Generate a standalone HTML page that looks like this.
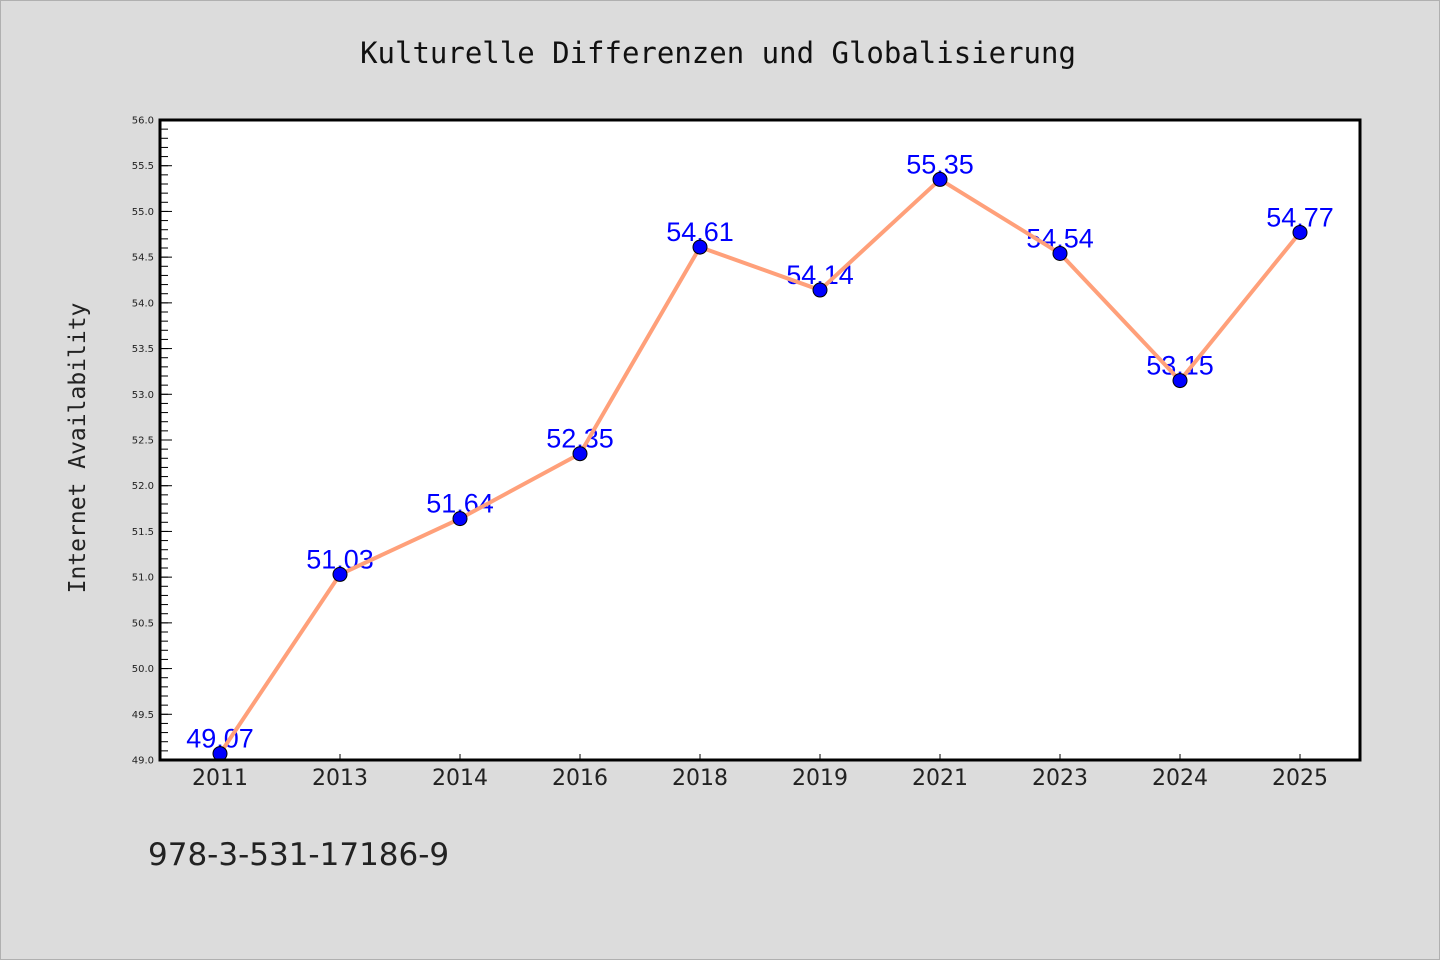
<!DOCTYPE html>
<html><head><meta charset="utf-8"><style>
html,body{margin:0;padding:0;background:#dcdcdc;}
svg{display:block;}
</style></head><body>
<svg id="chart" width="1440" height="960" xmlns="http://www.w3.org/2000/svg">
<rect x="0.5" y="0.5" width="1439" height="959" fill="#dcdcdc" stroke="#b0b0b0"/>
<text x="718" y="63" text-anchor="middle" font-family="'DejaVu Sans Mono','Liberation Mono',monospace" font-size="29" fill="#111">Kulturelle Differenzen und Globalisierung</text>
<text transform="translate(85,448) rotate(-90)" text-anchor="middle" font-family="'DejaVu Sans Mono','Liberation Mono',monospace" font-size="23" fill="#222">Internet Availability</text>
<text x="148" y="865" font-family="'DejaVu Sans','Liberation Sans',sans-serif" font-size="31" fill="#222">978-3-531-17186-9</text>
<rect x="160" y="120" width="1200" height="640" fill="#fff"/>
<g id="ticks"></g>
<g id="labels"></g>
<g id="series"></g>
<rect x="160" y="120" width="1200" height="640" fill="none" stroke="#000" stroke-width="3"/>
</svg>
<script>
const categories = ["2011","2013","2014","2016","2018","2019","2021","2023","2024","2025"];
const values = [49.07,51.03,51.64,52.35,54.61,54.14,55.35,54.54,53.15,54.77];
const yTicks = [49.0,49.5,50.0,50.5,51.0,51.5,52.0,52.5,53.0,53.5,54.0,54.5,55.0,55.5,56.0];
const valueLabels = ["49.07","51.03","51.64","52.35","54.61","54.14","55.35","54.54","53.15","54.77"];

const NS="http://www.w3.org/2000/svg";
const L=160,R=1360,T=120,B=760,yMin=49,yMax=56;
const x=i=>L+(R-L)/categories.length*(i+0.5);
const y=v=>B-(v-yMin)/(yMax-yMin)*(B-T);
function mk(tag,attrs,parent){const e=document.createElementNS(NS,tag);for(const k in attrs)e.setAttribute(k,attrs[k]);parent.appendChild(e);return e;}
const tg=document.getElementById('ticks'),lg=document.getElementById('labels'),sg=document.getElementById('series');
// minor ticks
for(let v=yMin;v<=yMax+1e-9;v+=0.1){
  const t=mk('line',{x1:L,x2:L+8,y1:y(v),y2:y(v),stroke:'#000','stroke-width':1},tg);
  
  
}
yTicks.forEach(v=>{
  const t=mk('line',{x1:L,x2:L+12,y1:y(v),y2:y(v),stroke:'#000','stroke-width':1},tg);
  
  
  const tx=mk('text',{x:L-6,y:y(v)+3.5,'text-anchor':'end','font-family':"'DejaVu Sans',sans-serif",'font-size':10,fill:'#222'},tg);
  tx.textContent=v.toFixed(1);
  
  
});
categories.forEach((c,i)=>{
  const t=mk('line',{x1:x(i),x2:x(i),y1:B,y2:B-6,stroke:'#000','stroke-width':1},tg);
  
  
  const tx=mk('text',{x:x(i),y:B+25,'text-anchor':'middle','font-family':"'DejaVu Sans',sans-serif",'font-size':22,fill:'#222'},tg);
  tx.textContent=c;
  
  
});
values.forEach((v,i)=>{
  const tx=mk('text',{x:x(i),y:y(v)-6,'text-anchor':'middle','font-family':"'Liberation Sans',sans-serif",'font-size':27,fill:'#0000ff'},lg);
  tx.textContent=valueLabels[i];
  
  
});
const pl=mk('polyline',{points:values.map((v,i)=>x(i)+','+y(v)).join(' '),fill:'none',stroke:'#ffa07a','stroke-width':4,'stroke-linejoin':'round'},sg);


values.forEach((v,i)=>{
  const c=mk('circle',{cx:x(i),cy:y(v),r:7,fill:'#0000ff',stroke:'#000','stroke-width':1},sg);
  
  
});
</script>
</body></html>
